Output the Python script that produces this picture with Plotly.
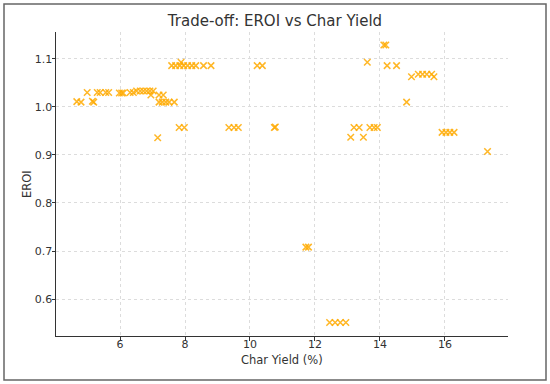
import plotly.graph_objects as go

char_yield = [4.67, 4.80, 4.99, 5.15, 5.19, 5.30, 5.39, 5.56, 5.65, 5.98, 6.05, 6.10,
              6.31, 6.41, 6.51, 6.62, 6.72, 6.82, 6.92, 7.02, 6.95, 7.20, 7.33,
              7.20, 7.30, 7.41, 7.51, 7.67, 7.16,
              7.59, 7.71, 7.84, 7.96, 8.08, 8.21, 8.33, 7.88, 8.57, 8.80,
              7.82, 7.98, 9.35, 9.51, 9.64, 10.22, 10.38, 10.75, 10.78,
              11.72, 11.80, 12.45, 12.62, 12.78, 12.95,
              13.10, 13.20, 13.36, 13.49, 13.69, 13.82, 13.92, 13.61,
              14.12, 14.18, 14.22, 14.51, 14.97, 15.18, 15.31, 15.44, 15.59, 15.66, 14.82,
              15.91, 16.03, 16.15, 16.28, 17.31]
eroi = [1.011, 1.010, 1.030, 1.012, 1.010, 1.030, 1.030, 1.030, 1.030, 1.029, 1.029, 1.029,
        1.030, 1.030, 1.033, 1.033, 1.033, 1.033, 1.033, 1.033, 1.025, 1.025, 1.025,
        1.010, 1.010, 1.010, 1.010, 1.010, 0.936,
        1.086, 1.086, 1.086, 1.086, 1.086, 1.086, 1.086, 1.093, 1.086, 1.086,
        0.957, 0.957, 0.957, 0.957, 0.957, 1.086, 1.086, 0.957, 0.958,
        0.708, 0.708, 0.551, 0.551, 0.551, 0.551,
        0.937, 0.957, 0.957, 0.937, 0.957, 0.957, 0.957, 1.093,
        1.129, 1.129, 1.086, 1.086, 1.063, 1.068, 1.068, 1.068, 1.068, 1.063, 1.010,
        0.947, 0.947, 0.947, 0.947, 0.907]

x_ticks = [6, 8, 10, 12, 14, 16]
y_ticks = [0.6, 0.7, 0.8, 0.9, 1.0, 1.1]

fig = go.Figure()
fig.add_trace(go.Scatter(
    x=char_yield, y=eroi, mode="markers",
    marker=dict(symbol="x-thin-open", size=6.5, color="rgba(255,170,0,0.85)",
                line=dict(width=1.5, color="rgba(255,170,0,0.85)")),
    showlegend=False))

font = "DejaVu Sans, sans-serif"
axis_common = dict(showline=True, linecolor="#333", linewidth=1, ticks="outside",
                   ticklen=3.5, tickcolor="#333", showgrid=True, gridcolor="#dcdcdc",
                   griddash="dot", gridwidth=0.8, zeroline=False, mirror=False,
                   automargin=False,
                   tickfont=dict(family=font, size=11, color="#333"))
fig.update_layout(
    width=550, height=384,
    margin=dict(l=56, r=42, t=32, b=48),
    paper_bgcolor="white", plot_bgcolor="white",
    title=dict(text="Trade-off: EROI vs Char Yield", x=0.5, xanchor="center",
               y=1 - 21 / 384, yanchor="middle",
               font=dict(family=font, size=15, color="#333")),
    xaxis=dict(range=[4.03, 17.94], tickvals=x_ticks, ticklabelstandoff=-6, **axis_common),
    yaxis=dict(range=[0.523, 1.156], tickvals=y_ticks, tickformat=".1f",
               ticklabelstandoff=-3, **axis_common),
    annotations=[
        dict(text="Char Yield (%)", xref="paper", yref="paper", x=0.5, y=(336 - 360) / 304,
             xanchor="center", yanchor="middle", showarrow=False,
             font=dict(family=font, size=11.5, color="#333")),
        dict(text="EROI", xref="paper", yref="paper", x=(27 - 56) / 452, y=0.5,
             xanchor="center", yanchor="middle", showarrow=False, textangle=-90,
             font=dict(family=font, size=11.5, color="#333")),
    ],
    shapes=[dict(type="rect", xref="paper", yref="paper",
                 x0=(4 - 56) / 452, x1=(546 - 56) / 452,
                 y0=(336 - 380) / 304, y1=(336 - 4) / 304,
                 line=dict(color="#666", width=1.5), layer="below")],
)

fig.write_html("out.html", config={"displayModeBar": False},
               post_script="document.body.style.margin='0';")
